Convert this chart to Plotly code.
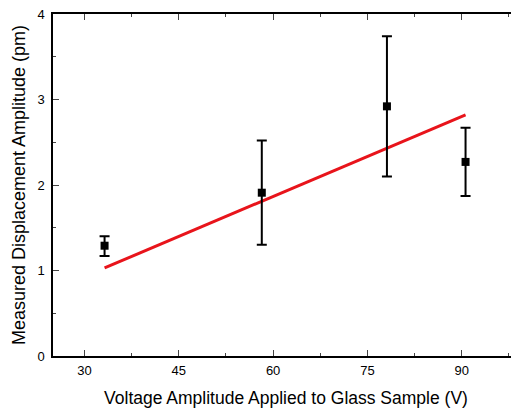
import plotly.graph_objects as go

voltage = [33.2, 58.2, 78.1, 90.6]
displacement = [1.29, 1.91, 2.92, 2.27]
err_plus = [0.11, 0.61, 0.82, 0.40]
err_minus = [0.12, 0.61, 0.82, 0.40]
fit_x = [33.2, 90.6]
fit_y = [1.03, 2.82]
x_ticks = [30, 45, 60, 75, 90]
y_ticks = [0, 1, 2, 3, 4]

fig = go.Figure()
fig.add_trace(go.Scatter(
    x=fit_x, y=fit_y, mode="lines",
    line=dict(color="#e8141b", width=3), showlegend=False))
fig.add_trace(go.Scatter(
    x=voltage, y=displacement, mode="markers",
    marker=dict(symbol="square", size=8, color="black"),
    error_y=dict(type="data", symmetric=False, array=err_plus, arrayminus=err_minus,
                 color="black", thickness=2, width=5),
    showlegend=False))

fig.update_layout(
    width=511, height=403,
    margin=dict(l=45, r=0, t=6, b=55),
    paper_bgcolor="white", plot_bgcolor="white",
    font=dict(family="Liberation Sans, Arial, sans-serif", color="black"),
)
fig.update_xaxes(
    range=[25, 99.1], tickvals=x_ticks, ticks="inside", ticklen=6, tickwidth=1.2,
    minor=dict(ticks="inside", ticklen=3, dtick=7.5, tickwidth=1.2, tick0=30),
    showline=True, linecolor="black", linewidth=1.5, mirror="ticks",
    showgrid=False, zeroline=False, tickfont=dict(size=13), automargin=False,
    ticklabelstandoff=2,
    title=dict(text="Voltage Amplitude Applied to Glass Sample (V)", font=dict(size=17.5), standoff=14),
)
fig.update_yaxes(
    range=[0, 4], tickvals=y_ticks, ticks="inside", ticklen=6, tickwidth=1.2,
    minor=dict(ticks="inside", ticklen=3, dtick=0.5, tickwidth=1.2),
    showline=True, linecolor="black", linewidth=1.5, mirror=False,
    showgrid=False, zeroline=False, tickfont=dict(size=13), automargin=False,
    ticklabelstandoff=4, ticklabeloverflow="allow",
    title=dict(text="Measured Displacement Amplitude (pm)", font=dict(size=18), standoff=7),
)
fig.write_html("out.html")
